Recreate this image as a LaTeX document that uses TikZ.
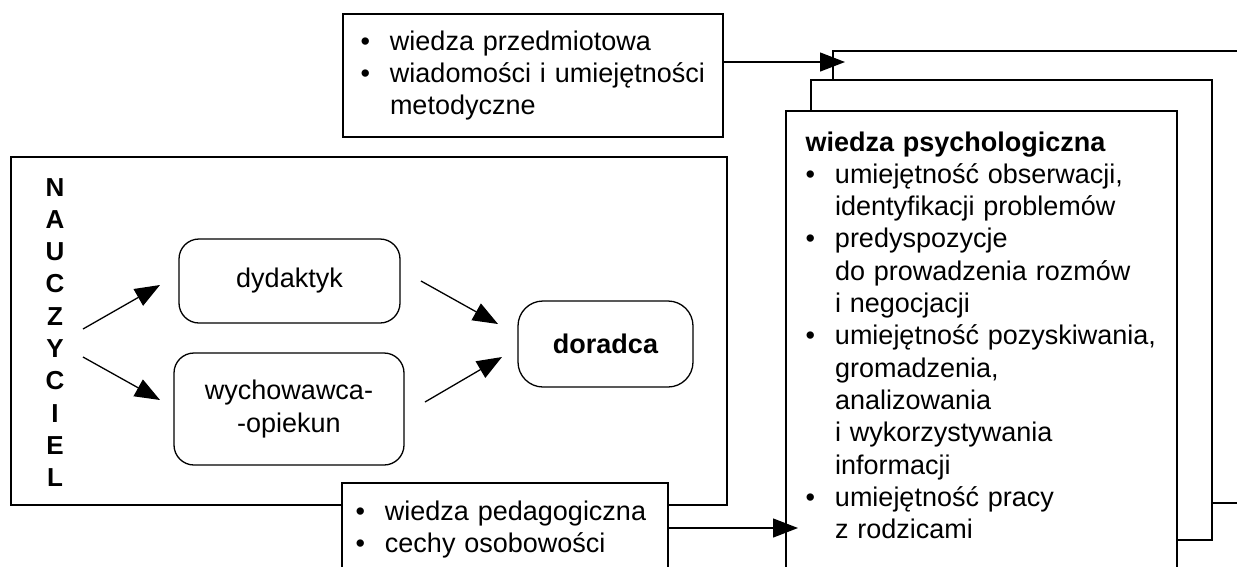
\documentclass[tikz,border=0pt]{standalone}
\usepackage{fontspec}
\setmainfont{Liberation Sans}
\usetikzlibrary{arrows.meta}
\newcommand\bul{\makebox[29.5pt][l]{•}}
\newcommand\ind{\hspace*{29.5pt}}
\newcommand\txtfont{\fontsize{27}{32.3}\selectfont\spaceskip=0.33em plus 0.1em}
\begin{document}
\begin{tikzpicture}[x=1pt,y=-1pt, line width=1.3pt,
  every node/.style={inner sep=0pt, outer sep=0pt},
  frame/.style={draw, fill=white, anchor=north west},
  rbox/.style={draw, fill=white, rounded corners=20pt, font=\txtfont, align=center},
  txt/.style={anchor=base west, font=\txtfont},
  arr/.style={-{Triangle[length=25pt,width=19pt]}}]
\useasboundingbox (0,0) rectangle (1237,566);
\begin{scope}
\clip (0,0) rectangle (1237,566);
% big frame
\node[frame, minimum width=716pt, minimum height=348pt] (nauczyciel) at (11,157) {};
\node[anchor=base, font=\bfseries\fontsize{26}{32.3}\selectfont] (nlet) at (55,196)
  {\begin{tabular}[t]{@{}c@{}}N\\A\\U\\C\\Z\\Y\\C\\I\\E\\L\end{tabular}};
\node[rbox, minimum width=221pt, minimum height=84pt] (dyd) at (289.5,281) {dydaktyk};
\node[rbox, minimum width=230pt, minimum height=112pt] (wych) at (289,409) {wychowawca-\\-opiekun};
\node[rbox, rounded corners=25pt, minimum width=175pt, minimum height=86pt, font=\bfseries\txtfont] (dor) at (605.5,344) {doradca};
\coordinate (n1) at (83,329); \coordinate (t1) at (160,285);
\coordinate (n2) at (83,357); \coordinate (t2) at (160,400);
\coordinate (s3) at (421,281); \coordinate (t3) at (498,324);
\coordinate (s4) at (425,402); \coordinate (t4) at (502,357);
\draw[arr] (n1) -- (t1);
\draw[arr] (n2) -- (t2);
\draw[arr] (s3) -- (t3);
\draw[arr] (s4) -- (t4);
% side boxes
\node[frame, minimum width=380pt, minimum height=123pt] (topbox) at (343,14) {};
\node[frame, minimum width=326pt, minimum height=120pt] (botbox) at (342,483) {};
% stacked pages
\node[frame, minimum width=440pt, minimum height=452pt] (pback) at (833,51) {};
\node[frame, minimum width=401pt, minimum height=460pt] (pmid) at (811,80) {};
\node[frame, minimum width=391pt, minimum height=480pt] (pfront) at (786,111) {};
% arrows into pages
\coordinate (pin) at (845,62);
\coordinate (fin) at (798,528);
\draw[arr] (topbox.east |- pin) -- (pin);
\draw[arr] (botbox.east |- fin) -- (fin);
% texts
\node[txt] (toptxt) at (360.5,50) {\begin{tabular}[t]{@{}l@{}}\bul wiedza przedmiotowa\\ \bul wiadomości i umiejętności\\ \ind metodyczne\end{tabular}};
\node[txt] (bottxt) at (355.5,520) {\begin{tabular}[t]{@{}l@{}}\bul wiedza pedagogiczna\\ \bul cechy osobowości\end{tabular}};
\node[txt] (fronttxt) at (805.5,151) {\begin{tabular}[t]{@{}l@{}}\textbf{wiedza psychologiczna}\\
 \bul umiejętność obserwacji,\\ \ind identyfikacji problemów\\
 \bul predyspozycje\\ \ind do prowadzenia rozmów\\ \ind i negocjacji\\
 \bul umiejętność pozyskiwania,\\ \ind gromadzenia,\\ \ind analizowania\\ \ind i wykorzystywania\\ \ind informacji\\
 \bul umiejętność pracy\\ \ind z rodzicami\end{tabular}};
\end{scope}
\end{tikzpicture}
\end{document}
